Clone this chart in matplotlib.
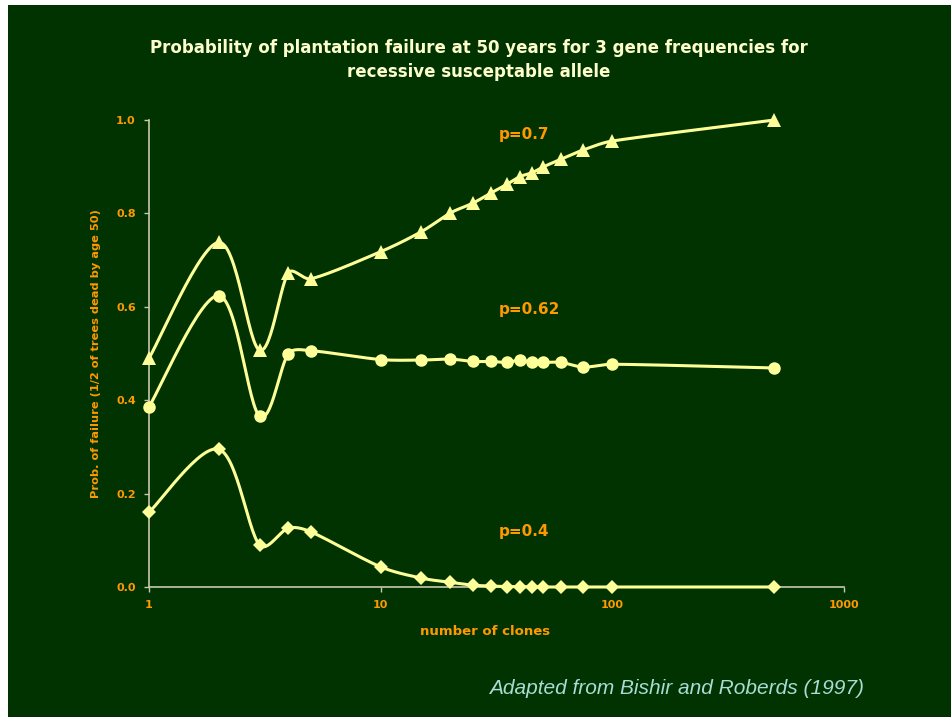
import numpy as np
import matplotlib
matplotlib.use("Agg")
import matplotlib.pyplot as plt
from matplotlib.patches import Rectangle

plt.rcParams["font.family"] = ["DejaVu Sans"]

# number of clones in the mixture
clones = [1, 2, 3, 4, 5, 10, 15, 20, 25, 30, 35, 40, 45, 50, 60, 75, 100, 500]

# probability of failure for each gene frequency
p070 = [0.490, 0.738, 0.507, 0.673, 0.660, 0.718, 0.761, 0.801, 0.822, 0.844,
        0.862, 0.879, 0.887, 0.899, 0.916, 0.936, 0.955, 1.000]
p062 = [0.386, 0.624, 0.366, 0.500, 0.506, 0.487, 0.486, 0.488, 0.483, 0.483,
        0.481, 0.486, 0.481, 0.481, 0.481, 0.471, 0.477, 0.469]
p040 = [0.160, 0.295, 0.090, 0.126, 0.118, 0.043, 0.019, 0.010, 0.004, 0.002,
        0.001, 0.001, 0.000, 0.000, 0.000, 0.000, 0.000, 0.000]

series = [
    (p070, "^", 9.5, "p=0.7", 0.968),
    (p062, "o", 9.0, "p=0.62", 0.595),
    (p040, "D", 7.5, "p=0.4", 0.118),
]

BG = "#003300"
LINE = "#FFFF99"
ORANGE = "#FF9900"
AXIS = "#C8C8B0"

fig = plt.figure(figsize=(9.51, 7.17), dpi=100)
fig.patch.set_facecolor("white")
fig.add_artist(Rectangle((8 / 951, 0), 1, 1 - 5 / 717, transform=fig.transFigure,
                         facecolor=BG, edgecolor="none", zorder=-10))

ax = fig.add_axes([149 / 951, 1 - 587 / 717, (844 - 149) / 951, (587 - 120) / 717])
ax.patch.set_visible(False)
ax.set_xscale("log")
ax.set_xlim(1, 1000)
ax.set_ylim(0, 1.0)


def _cap(v, seg, k=0.34):
    # keep a control handle shorter than k * segment length
    n = np.hypot(*v)
    lim = k * np.hypot(*seg)
    return v * (lim / n) if n > lim and n > 0 else v


def smooth(xs, ys, n=30):
    # bezier smoothing in screen space, like a spreadsheet "smoothed line"
    pts = ax.transData.transform(np.column_stack([xs, ys]))
    p = np.vstack([pts[0], pts, pts[-1]])
    t = np.linspace(0, 1, n)[:, None]
    segs = []
    for i in range(1, len(p) - 2):
        p0, p1, p2, p3 = p[i - 1], p[i], p[i + 1], p[i + 2]
        c1 = p1 + _cap((p2 - p0) / 6, p2 - p1)
        c2 = p2 - _cap((p3 - p1) / 6, p2 - p1)
        segs.append((1 - t) ** 3 * p1 + 3 * (1 - t) ** 2 * t * c1
                    + 3 * (1 - t) * t ** 2 * c2 + t ** 3 * p2)
    curve = ax.transData.inverted().transform(np.vstack(segs))
    return curve[:, 0], curve[:, 1]


for ys, mk, ms, name, ylab in series:
    sx, sy = smooth(clones, ys)
    ax.plot(sx, sy, color=LINE, lw=2.2, zorder=3, clip_on=False,
            solid_capstyle="round")
    ax.plot(clones, ys, linestyle="none", marker=mk, ms=ms, color=LINE,
            markeredgewidth=0, zorder=4, clip_on=False)
    ax.text(32.4, ylab, name, color=ORANGE, fontsize=11,
            fontweight="bold", ha="left", va="center")

for side in ("top", "right"):
    ax.spines[side].set_visible(False)
for side in ("left", "bottom"):
    ax.spines[side].set_color(AXIS)
    ax.spines[side].set_linewidth(1.2)

ax.set_xticks([1, 10, 100, 1000])
ax.set_xticklabels(["1", "10", "100", "1000"])
ax.xaxis.set_minor_locator(matplotlib.ticker.NullLocator())
ax.set_yticks([0, 0.2, 0.4, 0.6, 0.8, 1.0])
ax.set_yticklabels(["0.0", "0.2", "0.4", "0.6", "0.8", "1.0"])
ax.tick_params(axis="both", colors=AXIS, labelcolor=ORANGE, labelsize=8,
               length=3.5, width=1.0, direction="out")
ax.tick_params(axis="x", pad=6)
ax.tick_params(axis="y", pad=6)
for lab in ax.get_xticklabels() + ax.get_yticklabels():
    lab.set_fontweight("bold")

ax.set_xlabel("number of clones", color=ORANGE, fontsize=9.5,
              fontweight="bold")
ax.xaxis.set_label_coords(0.4835, -0.081)
ax.set_ylabel("Prob. of failure (1/2 of trees dead by age 50)", color=ORANGE,
              fontsize=8.2, fontweight="bold", labelpad=11)

fig.text(479 / 951, 1 - 60 / 717,
         "Probability of plantation failure at 50 years for 3 gene frequencies for\n"
         "recessive susceptable allele",
         color="#FFFFCC", fontsize=12, fontweight="bold", ha="center",
         va="center", linespacing=1.45)

fig.text(677 / 951, 1 - 688 / 717, "Adapted from Bishir and Roberds (1997)",
         color="#A8DCD4", fontsize=15, style="italic", ha="center",
         va="center", family="Liberation Sans")

fig.savefig("out.png", dpi=100, facecolor=fig.get_facecolor())
